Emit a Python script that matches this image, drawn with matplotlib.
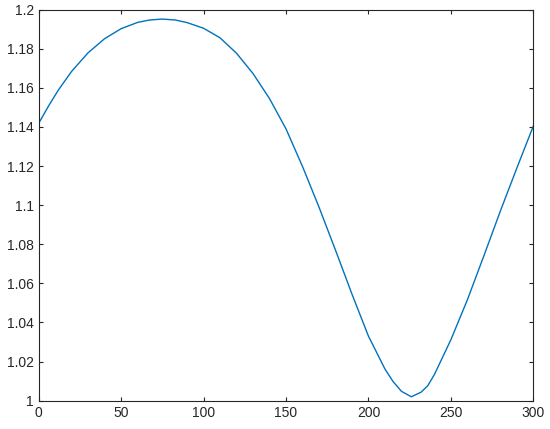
"""
Recreate a single-line curve plot (Octave style axes).
"""

import matplotlib
matplotlib.use("Agg")
import matplotlib.pyplot as plt

# Values
x_vals = [0, 6, 12, 20, 30, 40, 50, 60, 67, 75, 83, 90, 100, 110, 120,
          130, 140, 150, 160, 170, 180, 190, 200, 210, 215, 220, 226,
          232, 236, 240, 250, 260, 270, 280, 290, 300]
y_vals = [1.1419, 1.1508, 1.1590, 1.1685, 1.1780, 1.1852, 1.1903, 1.1935,
          1.1947, 1.1952, 1.1947, 1.1934, 1.1905, 1.1856, 1.1777,
          1.1673, 1.1545, 1.1390, 1.1198, 1.0990, 1.0770, 1.0545, 1.0330,
          1.0162, 1.0097, 1.0048, 1.0020, 1.0044, 1.0077, 1.0134, 1.0312,
          1.0516, 1.0741, 1.0970, 1.1190, 1.1405]

x_ticks = [0, 50, 100, 150, 200, 250, 300]
y_ticks = [1, 1.02, 1.04, 1.06, 1.08, 1.1, 1.12, 1.14, 1.16, 1.18, 1.2]
y_labels = ["1", "1.02", "1.04", "1.06", "1.08", "1.1", "1.12", "1.14",
            "1.16", "1.18", "1.2"]

plt.rcParams["font.family"] = ["Liberation Sans", "DejaVu Sans"]

fig = plt.figure(figsize=(5.5, 4.29), dpi=100)
ax = fig.add_axes([0.0704, 0.066, 0.8993, 0.9114])

ax.plot(x_vals, y_vals, color="#0072BD", linewidth=1.0)

ax.set_xlim(0, 300)
ax.set_ylim(1, 1.2)
ax.set_xticks(x_ticks)
ax.set_yticks(y_ticks)
ax.set_yticklabels(y_labels)

# Octave-like box with inward ticks on all sides
for spine in ax.spines.values():
    spine.set_color("#262626")
    spine.set_linewidth(0.8)
ax.tick_params(direction="in", length=3, width=0.8, color="#262626",
               labelcolor="#262626", labelsize=10,
               top=True, right=True)

fig.savefig("out.png", dpi=100)
plt.close(fig)
